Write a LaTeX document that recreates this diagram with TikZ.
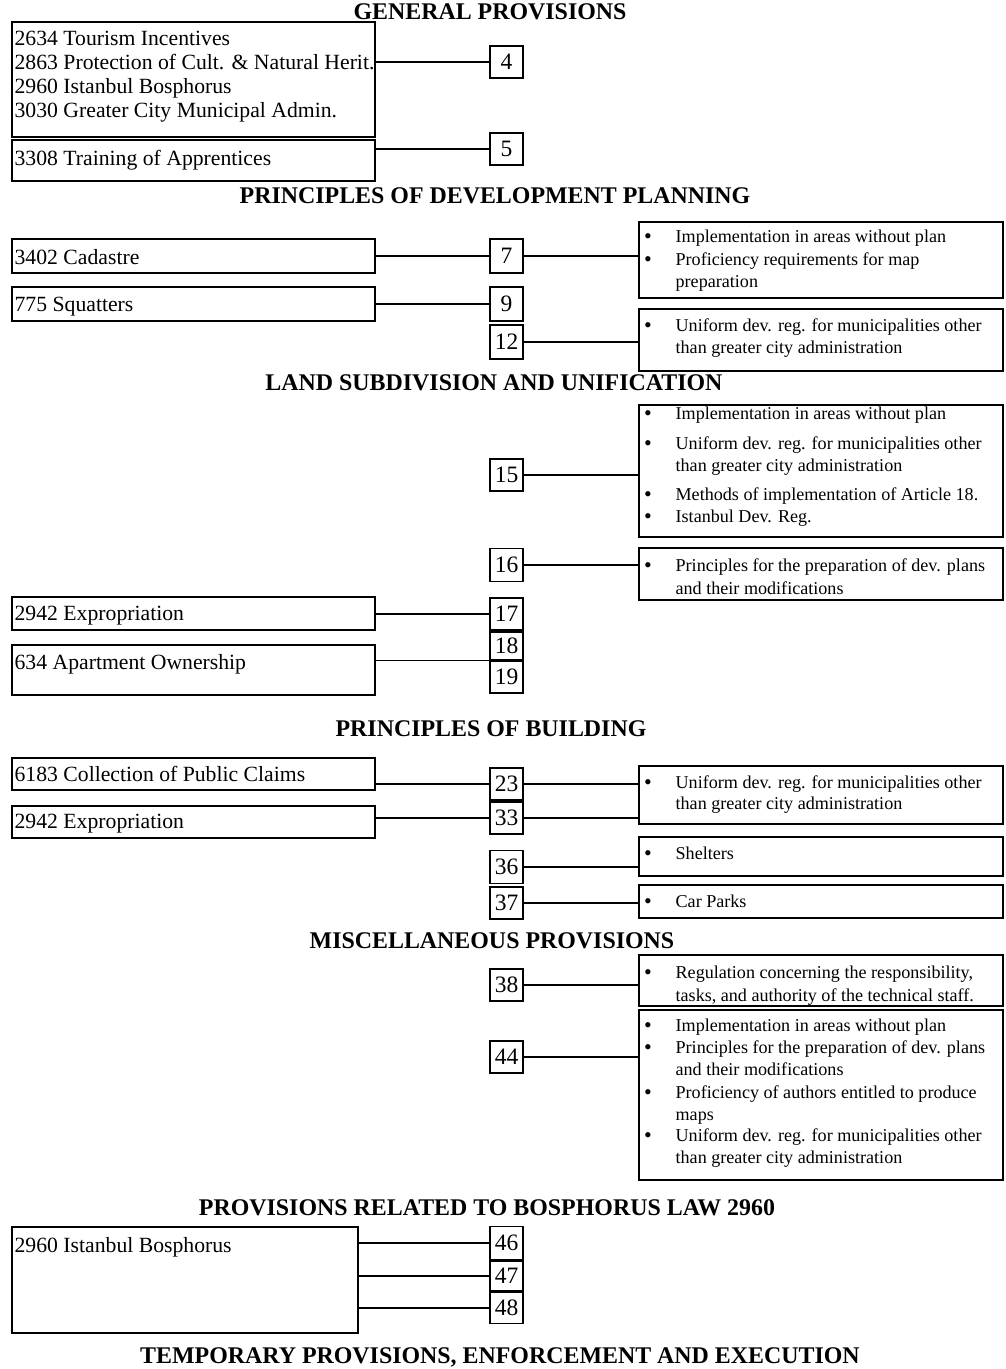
\documentclass[tikz,border=0pt]{standalone}
\usepackage{fontspec}
\setmainfont{Liberation Serif}
\usetikzlibrary{fit}
\newcommand{\bl}[3]{\node[bul] (#1b) at (648,#2) {\textbullet}; \node[rtext] (#1) at (675,#2) {#3};}
\newcommand{\cl}[3]{\node[rtext] (#1) at (675,#2) {#3};}
\newcommand{\nbox}[4]{\node[numbox, minimum height=#3pt] (#1) at (506.5,#2) {#4};}
\newcommand{\rect}[5]{\node[frame, fit={(#2,#3)(#4,#5)}] (#1) {};}
\begin{document}
\begin{tikzpicture}[x=1pt,y=-1pt, line width=1.3pt,
 frame/.style={draw, inner sep=0pt},
 numbox/.style={draw, inner sep=0pt, minimum width=33pt, font=\fontsize{23.5}{24}\selectfont, text height=15.9pt, text depth=0pt},
 ltext/.style={anchor=west, inner sep=0pt, font=\fontsize{21.7}{24}\selectfont, text height=14.4pt, text depth=0pt},
 rtext/.style={anchor=west, inner sep=0pt, font=\fontsize{18.1}{22}\selectfont, text height=12pt, text depth=0pt},
 bul/.style={anchor=center, inner sep=0pt, font=\fontsize{22}{22}\selectfont, text height=14.6pt, text depth=0pt},
 head/.style={inner sep=0pt, font=\fontsize{23.9}{24}\selectfont\bfseries, text height=15.8pt, text depth=0pt}]
\useasboundingbox (0,0) rectangle (1005,1369);

% headings
\node[head] (h1) at (490,12) {GENERAL PROVISIONS};
\node[head] (h2) at (495,196) {PRINCIPLES OF DEVELOPMENT PLANNING};
\node[head] (h3) at (494,383) {LAND SUBDIVISION AND UNIFICATION};
\node[head] (h4) at (491,729) {PRINCIPLES OF BUILDING};
\node[head] (h5) at (492,941) {MISCELLANEOUS PROVISIONS};
\node[head] (h6) at (487,1208) {PROVISIONS RELATED TO BOSPHORUS LAW 2960};
\node[head] (h7) at (500,1356) {TEMPORARY PROVISIONS, ENFORCEMENT AND EXECUTION};

% left boxes
\rect{LA}{12}{22}{375}{137}
\node[ltext] (la1) at (14,38) {2634 Tourism Incentives};
\node[ltext] (la2) at (14,62) {2863 Protection of Cult. \& Natural Herit.};
\node[ltext] (la3) at (14,86) {2960 Istanbul Bosphorus};
\node[ltext] (la4) at (14,110) {3030 Greater City Municipal Admin.};
\rect{LB}{12}{140}{375}{181}
\node[ltext] (lb1) at (14,158) {3308 Training of Apprentices};
\rect{Lcad}{12}{239}{375}{273}
\node[ltext] (lc1) at (14,257) {3402 Cadastre};
\rect{Lsq}{12}{287}{375}{321}
\node[ltext] (ls1) at (14,304) {775 Squatters};
\rect{Lexpa}{12}{597}{375}{630}
\node[ltext] (le1) at (14,613) {2942 Expropriation};
\rect{Lapt}{12}{645}{375}{695}
\node[ltext] (lp1) at (14,662) {634 Apartment Ownership};
\rect{Lcol}{12}{758}{375}{790}
\node[ltext] (lo1) at (14,774) {6183 Collection of Public Claims};
\rect{Lexpb}{12}{806}{375}{838}
\node[ltext] (lf1) at (14,821) {2942 Expropriation};
\rect{Lbos}{12}{1227}{358}{1333}
\node[ltext] (lx1) at (14,1245) {2960 Istanbul Bosphorus};

% number boxes
\nbox{n4}{62}{32}{4}
\nbox{n5}{149}{32}{5}
\nbox{n7}{256}{34}{7}
\nbox{n9}{304}{34}{9}
\nbox{n12}{342}{34}{12}
\nbox{n15}{475}{32}{15}
\nbox{n16}{565}{33}{16}
\nbox{n17}{614}{32}{17}
\nbox{n18}{646}{28}{18}
\nbox{n19}{677}{32}{19}
\nbox{n23}{784}{32}{23}
\nbox{n33}{818}{32}{33}
\nbox{n36}{867}{33}{36}
\nbox{n37}{903}{32}{37}
\nbox{n38}{985}{32}{38}
\nbox{n44}{1057}{32}{44}
\nbox{n46}{1243}{33}{46}
\nbox{n47}{1276}{30}{47}
\nbox{n48}{1308}{31}{48}

% right boxes
\rect{R1}{639}{222}{1003}{298}
\bl{r1a}{236}{Implementation in areas without plan}
\bl{r1b}{259}{Proficiency requirements for map}
\cl{r1c}{281}{preparation}
\rect{R2}{639}{309}{1003}{371}
\bl{r2a}{325}{Uniform dev. reg. for municipalities other}
\cl{r2b}{347}{than greater city administration}
\rect{R3}{639}{405}{1003}{537}
\bl{r3a}{413}{Implementation in areas without plan}
\bl{r3b}{443}{Uniform dev. reg. for municipalities other}
\cl{r3c}{465}{than greater city administration}
\bl{r3d}{494}{Methods of implementation of Article 18.}
\bl{r3e}{516}{Istanbul Dev. Reg.}
\rect{R4}{639}{548}{1003}{600}
\bl{r4a}{565}{Principles for the preparation of dev. plans}
\cl{r4b}{588}{and their modifications}
\rect{R5}{639}{766}{1003}{824}
\bl{r5a}{782}{Uniform dev. reg. for municipalities other}
\cl{r5b}{803}{than greater city administration}
\rect{R6}{639}{837}{1003}{876}
\bl{r6a}{853}{Shelters}
\rect{R7}{639}{885}{1003}{918}
\bl{r7a}{901}{Car Parks}
\rect{R8}{639}{955}{1003}{1006}
\bl{r8a}{972}{Regulation concerning the responsibility,}
\cl{r8b}{995}{tasks, and authority of the technical staff.}
\rect{R9}{639}{1010}{1003}{1180}
\bl{r9a}{1025}{Implementation in areas without plan}
\bl{r9b}{1047}{Principles for the preparation of dev. plans}
\cl{r9c}{1069}{and their modifications}
\bl{r9d}{1092}{Proficiency of authors entitled to produce}
\cl{r9e}{1114}{maps}
\bl{r9f}{1135}{Uniform dev. reg. for municipalities other}
\cl{r9g}{1157}{than greater city administration}

% connectors
\draw (LA.east |- n4.west) -- (n4.west);
\draw (LB.east |- n5.west) -- (n5.west);
\draw (Lcad.east |- n7.west) -- (n7.west);
\draw (n7.east) -- (R1.west |- n7.east);
\draw (Lsq.east |- n9.west) -- (n9.west);
\draw (n12.east) -- (R2.west |- n12.east);
\draw (n15.east) -- (R3.west |- n15.east);
\draw (n16.east) -- (R4.west |- n16.east);
\draw (Lexpa.east |- n17.west) -- (n17.west);
\draw (Lapt.east |- n18.south west) -- (n18.south west);
\draw (Lcol.east |- n23.west) -- (n23.west);
\draw (n23.east) -- (R5.west |- n23.east);
\draw (Lexpb.east |- n33.west) -- (n33.west);
\draw (n33.east) -- (R5.west |- n33.east);
\draw (n36.east) -- (R6.west |- n36.east);
\draw (n37.east) -- (R7.west |- n37.east);
\draw (n38.east) -- (R8.west |- n38.east);
\draw (n44.east) -- (R9.west |- n44.east);
\draw (Lbos.east |- n46.west) -- (n46.west);
\draw (Lbos.east |- n47.west) -- (n47.west);
\draw (Lbos.east |- n48.west) -- (n48.west);
\end{tikzpicture}
\end{document}
